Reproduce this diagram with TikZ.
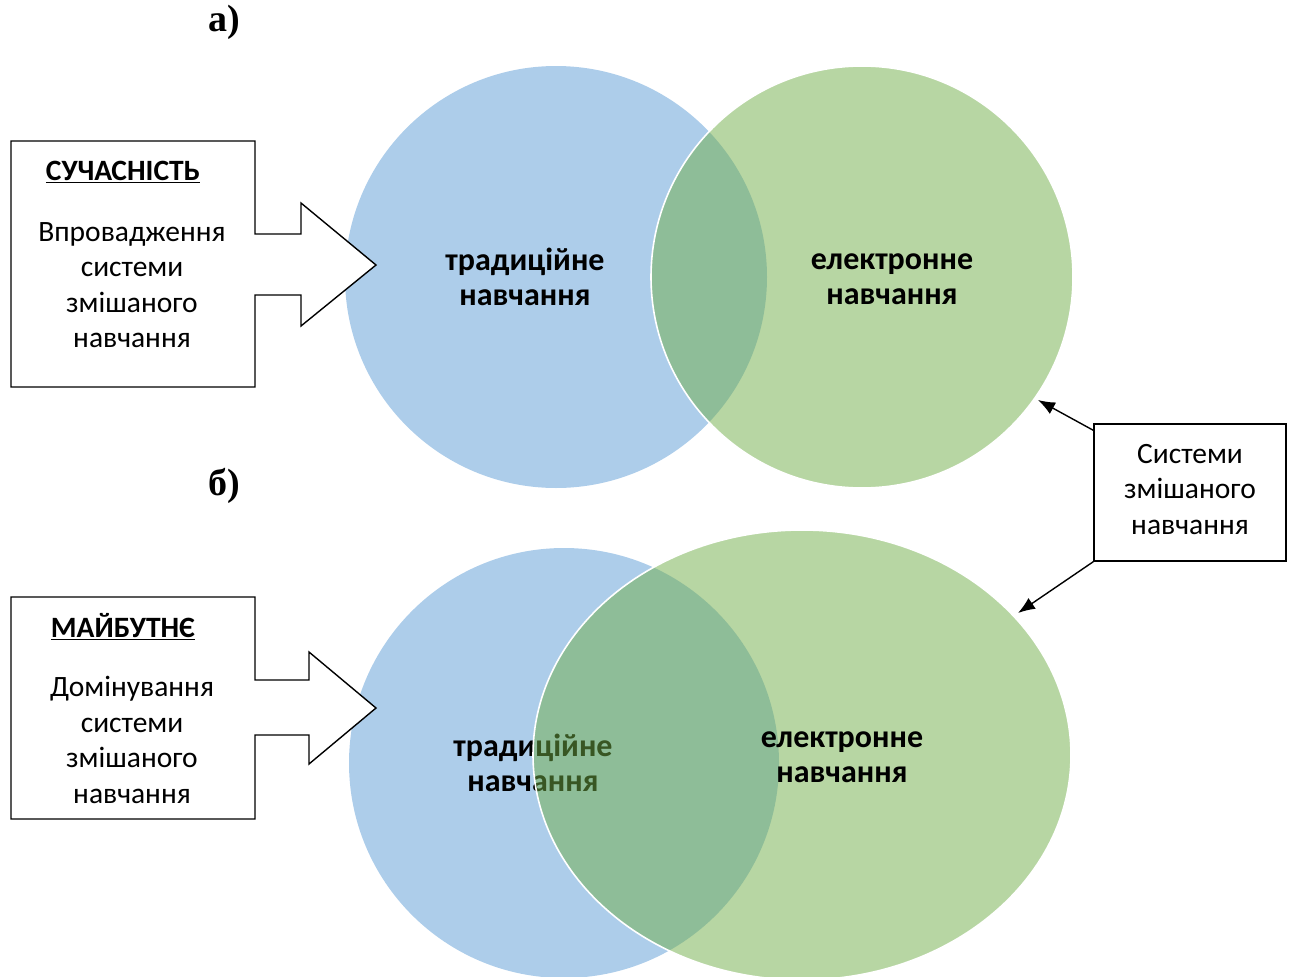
\documentclass[tikz,border=0pt]{standalone}
\usepackage{fontspec}
\setmainfont{Carlito}
\newfontfamily\serifb{Liberation Serif}
\usetikzlibrary{arrows.meta}
\definecolor{tradblue}{HTML}{5B9BD5}
\definecolor{elgreen}{HTML}{70AD47}
\tikzset{
  tradset/.style={fill=tradblue,fill opacity=0.5,draw=none},
  elset/.style={fill=elgreen,fill opacity=0.5,draw=white,draw opacity=1,line width=1.6pt},
  setlabel/.style={font=\fontsize{32}{35}\selectfont\bfseries,align=center,text=black},
  boxtext/.style={font=\fontsize{29.5}{35.5}\selectfont,align=center},
  boxtitle/.style={font=\fontsize{29.5}{35.5}\selectfont\bfseries},
  callout/.style={draw=black,fill=white,line width=1.4pt,line join=miter},
  partlabel/.style={font=\serifb\fontsize{38}{40}\selectfont\bfseries},
  pointer/.style={draw=black,line width=1.4pt,-{Latex[length=17pt,width=13pt]}}
}
\begin{document}
\begin{tikzpicture}[x=1pt,y=-1pt]
\useasboundingbox (0,0) rectangle (1291,977);
\begin{scope}
\clip (0,0) rectangle (1291,977);

% ---- part a) ----
\node[partlabel] (la) at (224,22) {а)};
\fill[tradset] (556,277) circle (211);
\node[setlabel] (ta) at (525,277) {традиційне\\навчання};
\draw[elset] (862,277) circle (211);
\node[setlabel] (ea) at (892,279) {електронне\\навчання};

% callout: present
\draw[callout] (11,141) -- (255,141) -- (255,234) -- (301,234) -- (301,203)
  -- (376,265) -- (301,326) -- (301,295) -- (255,295) -- (255,387) -- (11,387) -- cycle;
\node[boxtitle] (na) at (123,172) {\underline{СУЧАСНІСТЬ}};
\node[boxtext] (da) at (132,285) {Впровадження\\системи\\змішаного\\навчання};

% ---- part b) ----
\node[partlabel] (lb) at (224,486) {б)};
\fill[tradset] (564,763) circle (215);
\node[setlabel] (tb) at (533,763) {традиційне\\навчання};
\draw[elset] (802,755) ellipse (269 and 225);
\node[setlabel] (eb) at (842,757) {електронне\\навчання};

% callout: future
\draw[callout] (11,597) -- (255,597) -- (255,680) -- (309,680) -- (309,652)
  -- (376,708) -- (309,764) -- (309,735) -- (255,735) -- (255,819) -- (11,819) -- cycle;
\node[boxtitle] (nb) at (123,627) {\underline{МАЙБУТНЄ}};
\node[boxtext] (db) at (132,740) {Домінування\\системи\\змішаного\\навчання};

% ---- shared note ----
\node[draw=black,line width=1.4pt,minimum width=192pt,minimum height=137pt,inner sep=0pt]
  (note) at (1190,492.5) {};
\node[boxtext] (notetext) at (1190,489.5) {Системи\\змішаного\\навчання};
\coordinate (pa) at (1038,400);
\coordinate (pb) at (1018,613);
\draw[pointer] ([yshift=-7pt]note.north west) -- (pa);
\draw[pointer] (note.south west) -- (pb);
\end{scope}
\end{tikzpicture}
\end{document}
